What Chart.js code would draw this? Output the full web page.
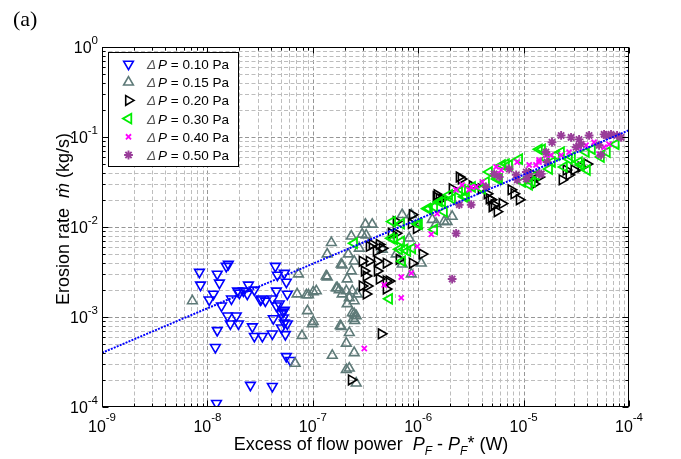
<!DOCTYPE html>
<html lang="en">
<head>
<meta charset="UTF-8">
<title>Erosion rate vs excess of flow power</title>
<script src="https://cdn.jsdelivr.net/npm/chart.js@4.4.0/dist/chart.umd.min.js"></script>
<style>
  html, body { margin: 0; padding: 0; background: #fff; }
  #wrap { width: 681px; height: 459px; }
</style>
</head>
<body>
<div id="wrap"><canvas id="myChart" width="681" height="459"></canvas></div>
<script>
// axis ranges (decades)
var xExpMin = -9, xExpMax = -4;
var yExpMin = -4, yExpMax = 0;

// legend labels
var seriesLabels = ['0.10', '0.15', '0.20', '0.30', '0.40', '0.50'];

// dP = 0.10 Pa
var p010x = [8.4e-9, 8.6e-9, 1.24e-8, 1.30e-8, 1.51e-8, 1.58e-8, 1.14e-8, 1.04e-8, 1.36e-8, 1.69e-8, 2.01e-8, 2.39e-8, 2.45e-8, 2.79e-8,
  1.55e-8, 1.88e-8, 1.65e-8, 1.97e-8, 1.24e-8, 1.19e-8, 2.67e-8, 2.79e-8, 3.32e-8, 3.18e-8, 3.55e-8, 4.13e-8, 4.51e-8, 4.22e-8,
  4.13e-8, 4.41e-8, 4.61e-8, 5.37e-8, 5.61e-8, 5.73e-8, 4.81e-8, 5.25e-8, 5.25e-8, 5.73e-8, 5.03e-8, 5.49e-8, 5.61e-8, 6.12e-8,
  2.56e-8, 4.13e-8, 1.22e-8, 4.51e-8, 5.03e-8, 1.93e-8, 2.2e-8, 3.25e-8, 5.37e-8, 5.37e-8];
var p010y = [3.15e-3, 2.27e-3, 3.0e-3, 2.39e-3, 3.67e-3, 3.86e-3, 1.80e-3, 1.55e-3, 1.33e-3, 1.59e-3, 1.85e-3, 1.80e-3, 2.27e-3, 2.0e-3,
  1.03e-3, 1.03e-3, 8.4e-4, 8.4e-4, 7.1e-4, 4.6e-4, 7.8e-4, 6.1e-4, 6.1e-4, 1.55e-3, 1.51e-3, 1.59e-3, 1.95e-3, 9.6e-4,
  6.5e-4, 3.67e-3, 2.92e-3, 3.07e-3, 2.45e-3, 1.80e-3, 1.40e-3, 1.14e-3, 9.8e-4, 8.4e-4, 7.6e-4, 6.4e-4, 3.65e-4, 3.3e-4,
  1.75e-4, 1.70e-4, 1.1e-4, 1.33e-3, 1.09e-3, 1.95e-3, 1.95e-3, 1.59e-3, 1.19e-3, 8.6e-4];

// dP = 0.15 Pa
var p015x = [7.2e-9, 7.3e-8, 7.1e-8, 8.7e-8, 8.9e-8, 7.9e-8, 6.8e-8, 1.50e-7, 1.37e-7, 1.86e-7, 1.37e-7, 9.1e-8, 1.01e-7, 1.08e-7,
  1.67e-7, 1.78e-7, 2.12e-7, 2.08e-7, 2.22e-7, 2.37e-7, 2.47e-7, 2.12e-7, 1.01e-7, 1.86e-7, 2.22e-7, 2.08e-7, 2.47e-7, 1.53e-7,
  2.08e-7, 2.58e-7, 2.37e-7, 2.58e-7, 2.47e-7, 2.32e-7, 2.47e-7, 2.76e-7, 2.94e-7, 1.90e-7, 1.34e-7, 3.15e-7, 3.66e-7, 3.21e-7,
  2.32e-7, 2.17e-7, 1.71e-7, 1.90e-7, 2.64e-7, 1.82e-7, 7.05e-7, 8.2e-7, 8.6e-7, 1.07e-6, 7.05e-7, 1.48e-6, 4.56e-7, 6.18e-7,
  8.6e-7, 1.36e-6, 1.88e-6, 2.10e-6, 9.9e-8, 2.22e-7, 1.76e-6, 2.42e-7, 2.5e-7];
var p015y = [1.51e-3, 3.0e-3, 1.80e-3, 1.76e-3, 1.17e-3, 6.2e-4, 3.05e-4, 6.7e-3, 5.0e-3, 3.86e-3, 2.78e-3, 1.76e-3, 1.90e-3, 1.95e-3,
  2.10e-3, 2.0e-3, 2.64e-3, 1.95e-3, 1.63e-3, 1.95e-3, 1.51e-3, 1.40e-3, 8.9e-4, 7.8e-4, 6.7e-4, 5.1e-4, 4.0e-4, 3.74e-4,
  2.6e-4, 1.84e-4, 1.11e-3, 1.03e-3, 1.09e-3, 3.24e-3, 4.17e-3, 5.8e-3, 8.3e-3, 3.77e-3, 2.85e-3, 1.07e-2, 1.07e-2, 8.1e-3,
  7.9e-3, 5.0e-3, 2.10e-3, 1.80e-3, 1.80e-3, 8.0e-4, 1.37e-2, 7.5e-3, 3.0e-3, 3.96e-3, 3.86e-3, 1.09e-2, 5.65e-3, 5.0e-3,
  1.37e-2, 1.21e-2, 1.15e-2, 1.31e-2, 8.4e-4, 2.7e-4, 1.15e-2, 9.6e-4, 9.1e-4];

// dP = 0.20 Pa
var p020x = [4.46e-7, 3.21e-7, 2.94e-7, 3.21e-7, 2.94e-7, 3.43e-7, 4.09e-7, 4.97e-7, 4.09e-7, 4.27e-7, 4.97e-7, 4.97e-7, 3.66e-7, 4.27e-7,
  4.56e-7, 4.0e-7, 5.55e-7, 6.18e-7, 8.8e-7, 1.09e-6, 6.6e-7, 1.51e-6, 1.69e-6, 6.18e-7, 8.6e-7, 9.6e-7, 3.43e-7, 2.45e-6,
  2.10e-6, 3.08e-7, 3.29e-7, 5.31e-7, 8.8e-7, 2.56e-6, 3.25e-6, 3.96e-6, 4.51e-6, 4.92e-6, 5.02e-6, 6.25e-6, 5.61e-6, 7.6e-6,
  8.1e-6, 9.1e-6, 1.20e-5, 1.26e-5, 1.40e-5, 2.32e-5, 2.70e-5, 3.01e-5, 3.51e-5, 4.0e-5, 2.53e-5, 4.71e-6, 5.25e-6, 1.58e-6,
  1.48e-6, 2.32e-7];
var p020y = [6.5e-4, 1.80e-3, 2.21e-3, 2.85e-3, 4.17e-3, 4.17e-3, 4.17e-3, 3.96e-3, 3.24e-3, 2.64e-3, 2.51e-3, 2.05e-3, 6.4e-3, 6.4e-3,
  5.8e-3, 5.4e-3, 8.5e-3, 1.15e-2, 1.37e-2, 5.0e-3, 4.38e-3, 2.28e-2, 2.06e-2, 8.5e-3, 1.09e-2, 9.6e-3, 6.1e-3, 3.6e-2,
  2.66e-2, 3.24e-3, 2.21e-3, 2.51e-3, 3.96e-3, 3.42e-2, 2.87e-2, 2.66e-2, 2.34e-2, 2.01e-2, 1.68e-2, 1.82e-2, 1.48e-2, 2.59e-2,
  2.34e-2, 2.01e-2, 3.89e-2, 3.01e-2, 3.6e-2, 3.34e-2, 3.79e-2, 4.3e-2, 4.65e-2, 5.0e-2, 4.3e-2, 2.06e-2, 1.77e-2, 2.06e-2,
  2.17e-2, 2.0e-4];

// dP = 0.30 Pa
var p030x = [2.47e-7, 5.55e-7, 5.93e-7, 6.9e-7, 9.8e-7, 6.9e-7, 6.6e-7, 7.4e-7, 7.9e-7, 7.05e-7, 1.42e-6, 1.22e-6, 1.42e-6, 1.69e-6,
  5.31e-7, 8.8e-7, 5.67e-7, 1.02e-6, 1.58e-6, 2.10e-6, 2.61e-6, 3.25e-6, 2.85e-6, 1.27e-6, 1.97e-6, 2.45e-6, 4.41e-6, 5.86e-6,
  7.3e-6, 9.1e-6, 1.50e-5, 2.03e-5, 2.70e-5, 3.36e-5, 3.91e-5, 4.46e-5, 1.63e-5, 1.75e-5, 1.20e-5, 1.13e-5, 4.71e-6, 6.25e-6,
  1.76e-6, 2.73e-6, 4.05e-6, 5.61e-6, 6.82e-6, 1.40e-5, 1.31e-5, 9.7e-6, 2.27e-5, 2.88e-5, 3.51e-5, 4.0e-5, 5.43e-5, 6.18e-5,
  7.5e-5, 2.42e-5, 1.86e-5];
var p030y = [6.6e-3, 7.5e-3, 7.3e-3, 1.09e-2, 1.09e-2, 6.9e-3, 5.65e-3, 5.65e-3, 5.4e-3, 4.17e-3, 9.4e-3, 1.60e-2, 1.68e-2, 1.91e-2,
  1.59e-3, 5.8e-3, 1.15e-2, 1.07e-2, 1.91e-2, 2.06e-2, 2.59e-2, 2.79e-2, 2.17e-2, 1.60e-2, 2.28e-2, 2.46e-2, 3.17e-2, 3.42e-2,
  4.89e-2, 5.69e-2, 7.3e-2, 6.3e-2, 5.69e-2, 5.27e-2, 6.8e-2, 7.3e-2, 5.69e-2, 4.41e-2, 3.17e-2, 2.94e-2, 4.09e-2, 4.89e-2,
  1.48e-2, 2.17e-2, 2.66e-2, 3.42e-2, 5.0e-2, 7.3e-2, 3.79e-2, 3.17e-2, 6.8e-2, 5.98e-2, 4.89e-2, 4.3e-2, 5.98e-2, 6.8e-2,
  8.3e-2, 4.65e-2, 5.27e-2];

// dP = 0.40 Pa
var p040x = [1.33e-6, 9.8e-7, 8.6e-7, 6.9e-7, 4.76e-7, 6.9e-7, 3.08e-7, 1.51e-6, 2.29e-6, 2.61e-6, 3.18e-6, 4.05e-6, 5.49e-6, 6.12e-6,
  8.7e-6, 1.13e-5, 1.40e-5, 1.63e-5, 2.27e-5, 2.70e-5, 3.36e-5, 3.91e-5, 4.66e-5, 6.46e-5, 1.82e-5, 5.2e-5, 5.8e-5, 3.04e-6,
  3.55e-6, 5.49e-6, 1.31e-5, 1.40e-5];
var p040y = [8.3e-3, 6.1e-3, 3.07e-3, 2.78e-3, 2.27e-3, 1.63e-3, 4.47e-4, 1.41e-2, 2.59e-2, 2.94e-2, 2.79e-2, 3.17e-2, 4.65e-2, 4.3e-2,
  5.27e-2, 4.89e-2, 5.27e-2, 6.3e-2, 6.3e-2, 6.8e-2, 7.7e-2, 8.1e-2, 8.75e-2, 8.3e-2, 6.3e-2, 6.46e-2, 7.7e-2, 2.59e-2,
  2.79e-2, 3.89e-2, 4.89e-2, 5.55e-2];

// dP = 0.50 Pa
var p050x = [2.45e-6, 3.18e-6, 2.29e-6, 2.10e-6, 5.25e-6, 7.3e-6, 1.06e-5, 1.40e-5, 1.63e-5, 1.86e-5, 2.27e-5, 2.82e-5, 3.15e-5, 3.51e-5,
  4.18e-5, 5.8e-5, 6.75e-5, 7.7e-5, 5.43e-5, 1.13e-5, 8.7e-6, 3.36e-5, 6.05e-5, 8.4e-5, 5.2e-5, 1.47e-5, 1.67e-5, 4.41e-6,
  5.86e-6, 8.5e-6, 1.06e-5];
var p050y = [1.77e-2, 1.77e-2, 8.5e-3, 2.64e-3, 3.89e-2, 4.41e-2, 3.42e-2, 3.89e-2, 6.8e-2, 8.75e-2, 0.104, 9.9e-2, 7.7e-2, 8.3e-2,
  0.104, 0.107, 0.107, 0.104, 6.3e-2, 3.89e-2, 3.34e-2, 9.4e-2, 0.104, 9.9e-2, 8.1e-2, 3.89e-2, 5.27e-2, 2.79e-2,
  3.6e-2, 3.79e-2, 4.09e-2];

// power-law fit line (end points)
var fitX = [1e-9, 1e-4];
var fitY = [4.0e-4, 0.119];

var FONT = "'Liberation Sans', Arial, Helvetica, sans-serif";

// marker styles per series
var markerStyles = [
  { color: '#0000ff', style: 'triangle', rotation: 180, radius: 5.6, width: 1.6 },
  { color: '#5e7a78', style: 'triangle', rotation: 0, radius: 5.6, width: 1.6 },
  { color: '#000000', style: 'triangle', rotation: 90, radius: 5.6, width: 1.6 },
  { color: '#00ee00', style: 'triangle', rotation: 270, radius: 5.6, width: 1.8 },
  { color: '#ff00ff', style: 'crossRot', rotation: 0, radius: 3.6, width: 1.8 },
  { color: '#993d99', style: 'star', rotation: 0, radius: 4.4, width: 1.9 }
];

function zip(xs, ys) {
  return xs.map(function (x, i) { return { x: x, y: ys[i] }; });
}

var seriesX = [p010x, p015x, p020x, p030x, p040x, p050x];
var seriesY = [p010y, p015y, p020y, p030y, p040y, p050y];

var datasets = [];
for (var i = 0; i < seriesX.length; i++) {
  var m = markerStyles[i];
  datasets.push({
    label: '\u0394P = ' + seriesLabels[i] + ' Pa',
    data: zip(seriesX[i], seriesY[i]),
    showLine: false,
    pointStyle: m.style,
    pointRotation: m.rotation,
    pointRadius: m.radius,
    pointBorderWidth: m.width,
    pointBorderColor: m.color,
    pointBackgroundColor: 'rgba(0,0,0,0)',
    order: 10 - i
  });
}
datasets.push({
  label: 'fit',
  data: zip(fitX, fitY),
  showLine: true,
  borderColor: '#0000ff',
  borderWidth: 2,
  borderDash: [2, 1.2],
  pointRadius: 0,
  order: 0
});

function logTicks(e0, e1) {
  var out = [];
  for (var e = e0; e < e1; e++) {
    for (var k = 1; k < 10; k++) out.push({ v: k * Math.pow(10, e), major: k === 1 });
  }
  out.push({ v: Math.pow(10, e1), major: true });
  return out;
}

function drawRuns(ctx, runs, x, y) {
  var cx = x;
  runs.forEach(function (r) {
    ctx.font = r.font;
    ctx.fillText(r.t, cx, y + (r.dy || 0));
    cx += ctx.measureText(r.t).width;
  });
}
function runsWidth(ctx, runs) {
  var w = 0;
  runs.forEach(function (r) { ctx.font = r.font; w += ctx.measureText(r.t).width; });
  return w;
}

// grid behind the points
var gridPlugin = {
  id: 'matlabGrid',
  beforeDatasetsDraw: function (chart) {
    var ctx = chart.ctx, a = chart.chartArea;
    var xs = chart.scales.x, ys = chart.scales.y;
    ctx.save();
    ctx.lineWidth = 1;
    ctx.setLineDash([4, 2.5]);
    logTicks(xExpMin, xExpMax).forEach(function (t) {
      var px = Math.round(xs.getPixelForValue(t.v)) + 0.5;
      if (px <= a.left + 1 || px >= a.right - 1) return;
      ctx.strokeStyle = t.major ? '#969696' : '#bdbdbd';
      ctx.beginPath(); ctx.moveTo(px, a.top); ctx.lineTo(px, a.bottom); ctx.stroke();
    });
    logTicks(yExpMin, yExpMax).forEach(function (t) {
      var py = Math.round(ys.getPixelForValue(t.v)) + 0.5;
      if (py <= a.top + 1 || py >= a.bottom - 1) return;
      ctx.strokeStyle = t.major ? '#969696' : '#bdbdbd';
      ctx.beginPath(); ctx.moveTo(a.left, py); ctx.lineTo(a.right, py); ctx.stroke();
    });
    ctx.restore();
  }
};

// frame, ticks, labels, titles and legend
var framePlugin = {
  id: 'matlabFrame',
  afterDatasetsDraw: function (chart) {
    var ctx = chart.ctx, a = chart.chartArea;
    var xs = chart.scales.x, ys = chart.scales.y;
    var L = Math.round(a.left) + 0.5, R = Math.round(a.right) - 0.5;
    var T = Math.round(a.top) + 0.5, B = Math.round(a.bottom) - 0.5;
    ctx.save();
    ctx.setLineDash([]);
    ctx.strokeStyle = '#000';
    ctx.lineWidth = 1;
    ctx.strokeRect(L, T, R - L, B - T);

    // inward ticks on all four sides
    logTicks(xExpMin, xExpMax).forEach(function (t) {
      var px = Math.round(xs.getPixelForValue(t.v)) + 0.5;
      var len = t.major ? 6 : 3;
      ctx.beginPath();
      ctx.moveTo(px, B); ctx.lineTo(px, B - len);
      ctx.moveTo(px, T); ctx.lineTo(px, T + len);
      ctx.stroke();
    });
    logTicks(yExpMin, yExpMax).forEach(function (t) {
      var py = Math.round(ys.getPixelForValue(t.v)) + 0.5;
      var len = t.major ? 6 : 3;
      ctx.beginPath();
      ctx.moveTo(L, py); ctx.lineTo(L + len, py);
      ctx.moveTo(R, py); ctx.lineTo(R - len, py);
      ctx.stroke();
    });

    // tick labels 10^n
    ctx.fillStyle = '#000';
    ctx.textBaseline = 'alphabetic';
    ctx.textAlign = 'left';
    var base = '16px ' + FONT, sup = '11.5px ' + FONT;
    for (var e = xExpMin; e <= xExpMax; e++) {
      var px = xs.getPixelForValue(Math.pow(10, e));
      var runs = [{ t: '10', font: base }, { t: String(e), font: sup, dy: -11 }];
      drawRuns(ctx, runs, px - runsWidth(ctx, runs) / 2, 432);
    }
    for (var e2 = yExpMin; e2 <= yExpMax; e2++) {
      var py = ys.getPixelForValue(Math.pow(10, e2));
      var runs2 = [{ t: '10', font: base }, { t: String(e2), font: sup, dy: -9 }];
      drawRuns(ctx, runs2, 98 - runsWidth(ctx, runs2), py + 6);
    }

    // x title
    var tf = '18px ' + FONT, ti = 'italic 18px ' + FONT, ts = 'italic 12px ' + FONT;
    var xr = [
      { t: 'Excess of flow power  ', font: tf },
      { t: 'P', font: ti }, { t: 'F', font: ts, dy: 5 },
      { t: ' - ', font: tf },
      { t: 'P', font: ti }, { t: 'F', font: ts, dy: 5 },
      { t: '*', font: tf, dy: -1 },
      { t: ' (W)', font: tf }
    ];
    drawRuns(ctx, xr, 371 - runsWidth(ctx, xr) / 2, 450);

    // y title
    var yr = [
      { t: 'Erosion rate  ', font: tf },
      { t: '\u1E41', font: ti },
      { t: ' (kg/s)', font: tf }
    ];
    ctx.save();
    ctx.translate(69, 219);
    ctx.rotate(-Math.PI / 2);
    drawRuns(ctx, yr, -runsWidth(ctx, yr) / 2, 0);
    ctx.restore();

    // panel tag
    ctx.font = "22px 'Liberation Serif', 'Times New Roman', serif";
    ctx.fillText('(a)', 13, 26);

    // legend box
    var bx = 108.5, by = 52.5, bw = 130, bh = 114;
    ctx.fillStyle = '#fff';
    ctx.fillRect(bx, by, bw, bh);
    ctx.strokeStyle = '#000';
    ctx.lineWidth = 1;
    ctx.strokeRect(bx, by, bw, bh);
    var lf = '13.5px ' + FONT, lfi = 'italic 13.5px ' + FONT;
    for (var k = 0; k < markerStyles.length; k++) {
      var ms = markerStyles[k];
      var ry = 64 + k * 18.2;
      ctx.save();
      ctx.strokeStyle = ms.color;
      ctx.fillStyle = 'rgba(0,0,0,0)';
      ctx.lineWidth = ms.width;
      Chart.helpers.drawPoint(ctx, {
        pointStyle: ms.style, rotation: ms.rotation, radius: ms.radius, borderWidth: ms.width
      }, 128.5, ry);
      ctx.restore();
      ctx.fillStyle = '#555';
      ctx.font = lfi;
      ctx.fillText('\u0394', 147, ry + 5);
      ctx.fillStyle = '#000';
      drawRuns(ctx, [{ t: 'P', font: lfi }, { t: ' = ' + seriesLabels[k] + ' Pa', font: lf }], 158, ry + 5);
    }
    ctx.restore();
  }
};

var ctx = document.getElementById('myChart').getContext('2d');
var chart = new Chart(ctx, {
  type: 'scatter',
  data: { datasets: datasets },
  options: {
    responsive: false,
    animation: false,
    devicePixelRatio: 1,
    layout: { padding: { left: 102, right: 52, top: 47, bottom: 52 } },
    plugins: { legend: { display: false }, tooltip: { enabled: false } },
    scales: {
      x: { type: 'logarithmic', min: Math.pow(10, xExpMin), max: Math.pow(10, xExpMax), display: false },
      y: { type: 'logarithmic', min: Math.pow(10, yExpMin), max: Math.pow(10, yExpMax), display: false }
    }
  },
  plugins: [gridPlugin, framePlugin]
});
</script>
</body>
</html>
